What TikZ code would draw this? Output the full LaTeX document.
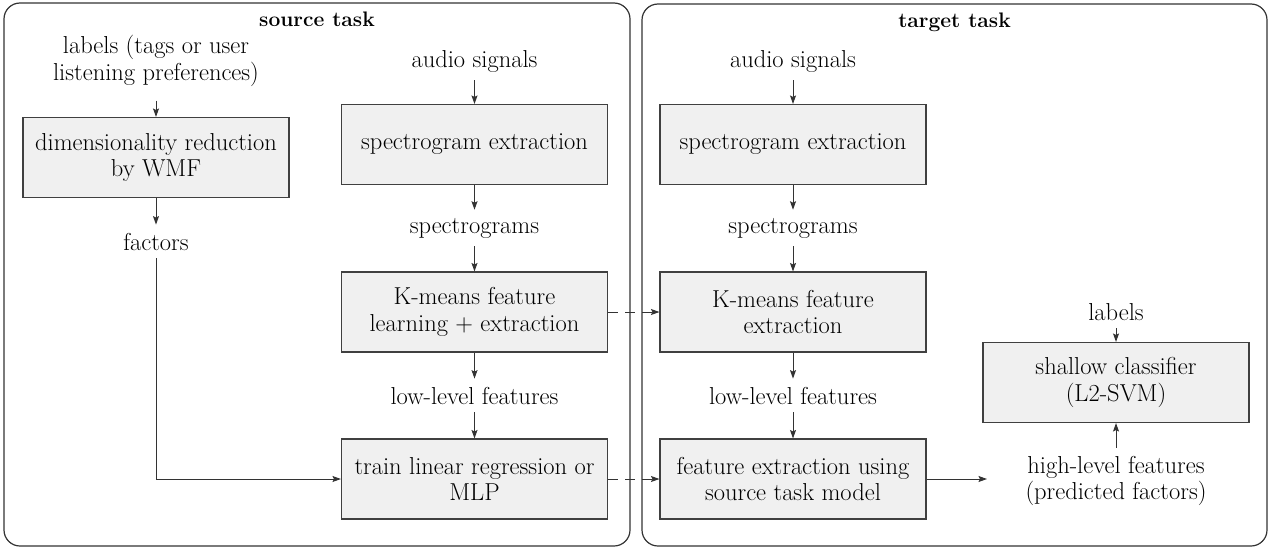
\documentclass[tikz,border=0pt]{standalone}
\usepackage{fontspec}
\usetikzlibrary{arrows.meta}
\begin{document}
\begin{tikzpicture}[x=1pt,y=-1pt,
  every node/.style={font=\fontsize{24.5}{26.5}\selectfont, text=black},
  taskframe/.style={draw=black!80, line width=1.2pt, rounded corners=16pt, inner sep=0pt},
  stagebox/.style={draw=black!75, fill=black!6, line width=1.1pt,
    minimum width=266pt, minimum height=80pt, align=center, inner sep=4pt},
  lbl/.style={inner sep=8pt, align=center},
  tasktitle/.style={font=\fontsize{21}{26}\selectfont\bfseries},
  arr/.style={draw=black!80, line width=1pt, -{Stealth[length=8.5pt,width=6pt,inset=1.5pt]}},
  dasharr/.style={arr, dash pattern=on 10pt off 7pt},
]
\useasboundingbox (0,0) rectangle (1271,549);

% the two task panels
\node[taskframe, minimum width=626pt, minimum height=543pt] (src) at (317,274.5) {};
\node[taskframe, minimum width=625pt, minimum height=542pt] (tgt) at (954.5,275) {};
\node[tasktitle, anchor=base] (srct) at (317,26) {source task};
\node[tasktitle, anchor=base] (tgtt) at (954.5,27) {target task};

% processing stages
\node[stagebox] (dim)   at (156,157.5)   {dimensionality reduction\\by WMF};
\node[stagebox] (spec1) at (474.5,144.5) {spectrogram extraction};
\node[stagebox] (km1)   at (474.5,312)   {K-means feature\\learning + extraction};
\node[stagebox] (train) at (474.5,479)   {train linear regression or\\MLP};
\node[stagebox] (spec2) at (793,144.5)   {spectrogram extraction};
\node[stagebox] (km2)   at (793,312)     {K-means feature\\extraction};
\node[stagebox] (fe2)   at (793,479)     {feature extraction using\\source task model};
\node[stagebox] (cls)   at (1116,382.5)  {shallow classifier\\(L2-SVM)};

% data labels
\node[lbl] (lab1) at (156,61) {labels (tags or user\\listening preferences)};
\node[lbl, anchor=base] (fac)  at (156,250)   {factors};
\node[lbl, anchor=base] (aud1) at (474.5,67)  {audio signals};
\node[lbl, anchor=base] (sg1)  at (474.5,233) {spectrograms};
\node[lbl, anchor=base] (low1) at (474.5,404) {low-level features};
\node[lbl, anchor=base] (aud2) at (793,67)    {audio signals};
\node[lbl, anchor=base] (sg2)  at (793,233)   {spectrograms};
\node[lbl, anchor=base] (low2) at (793,404)   {low-level features};
\node[lbl, anchor=base] (lab2) at (1116,320)  {labels};
\node[lbl] (high) at (1116,481) {high-level features\\(predicted factors)};
\coordinate (hin) at (987,479);

% source task flow
\draw[arr, shorten <=6pt] (lab1) -- (dim);
\draw[arr] (dim) -- (fac);
\draw[arr] (fac) |- (train);
\draw[arr] (aud1) -- (spec1);
\draw[arr] (spec1) -- (sg1);
\draw[arr] (sg1) -- (km1);
\draw[arr] (km1) -- (low1);
\draw[arr] (low1) -- (train);

% target task flow
\draw[arr] (aud2) -- (spec2);
\draw[arr] (spec2) -- (sg2);
\draw[arr] (sg2) -- (km2);
\draw[arr] (km2) -- (low2);
\draw[arr] (low2) -- (fe2);
\draw[arr] (fe2) -- (hin);
\draw[arr] (high) -- (cls);
\draw[arr] (lab2) -- (cls);

% transfer of learned models
\draw[dasharr] (km1) -- (km2);
\draw[dasharr] (train) -- (fe2);
\end{tikzpicture}
\end{document}
